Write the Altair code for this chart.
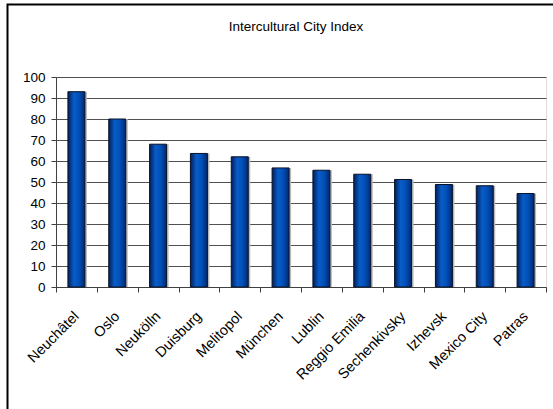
import altair as alt
import pandas as pd

cities = ["Neuchâtel", "Oslo", "Neukölln", "Duisburg", "Melitopol", "München",
          "Lublin", "Reggio Emilia", "Sechenkivsky", "Izhevsk", "Mexico City", "Patras"]
values = [93, 80, 68, 63.6, 62, 56.7, 55.6, 53.7, 51.2, 48.8, 48.2, 44.5]
y_ticks = [0, 10, 20, 30, 40, 50, 60, 70, 80, 90, 100]

df = pd.DataFrame({"city": cities, "value": values})

FONT = "Liberation Sans"

grad = alt.Gradient(
    gradient="linear",
    stops=[
        alt.GradientStop(color="#00205a", offset=0),
        alt.GradientStop(color="#0a5cc8", offset=0.35),
        alt.GradientStop(color="#0050b8", offset=0.65),
        alt.GradientStop(color="#00286e", offset=1),
    ],
    x1=0, x2=1, y1=0, y2=0,
)

x_enc = alt.X(
    "city:N", sort=None, title=None,
    scale=alt.Scale(paddingInner=0, paddingOuter=0),
    axis=alt.Axis(labelAngle=-45, labelAlign="right", labelBaseline="middle",
                  labelPadding=22, labelFont=FONT, labelFontSize=14.5,
                  labelColor="#000000", tickBand="extent", tickSize=5,
                  tickColor="#404040", domainColor="#404040", grid=False,
                  labelOverlap=False),
)
y_enc = alt.Y(
    "value:Q", title=None,
    scale=alt.Scale(domain=[0, 100], nice=False),
    axis=alt.Axis(values=y_ticks, labelFont=FONT, labelFontSize=13.5,
                  labelColor="#000000", tickSize=5, tickColor="#404040",
                  domainColor="#404040", gridColor="#505050", gridOpacity=1,
                  labelPadding=6),
)

shadow = alt.Chart(df).mark_bar(color="#b8b8b8", size=17, xOffset=2).encode(
    x=x_enc, y=y_enc
)
bars = alt.Chart(df).mark_bar(color=grad, stroke="#0a1228", strokeWidth=1, size=17).encode(
    x=x_enc, y=y_enc
)

frame_df = pd.DataFrame({"k": [0]})
frame = alt.Chart(frame_df).mark_rect(
    fillOpacity=0, stroke="#000000", strokeWidth=2
).encode(
    x=alt.value(-48.5), x2=alt.value(520), y=alt.value(-72.5), y2=alt.value(400)
)

title_df = pd.DataFrame({"t": ["Intercultural City Index"]})
title = alt.Chart(title_df).mark_text(
    font=FONT, fontSize=13.5, color="#000000", align="center", baseline="alphabetic"
).encode(text="t:N", x=alt.value(240), y=alt.value(-46))

chart = alt.layer(shadow, bars, frame, title).properties(
    width=490, height=210,
    autosize=alt.AutoSizeParams(type="none"),
    padding={"left": 56, "top": 77, "right": 7, "bottom": 122},
).configure_view(stroke="#a0a0a0", strokeWidth=1).configure(background="#ffffff")

chart.save("out.html", embed_options={"renderer": "svg", "actions": False})
